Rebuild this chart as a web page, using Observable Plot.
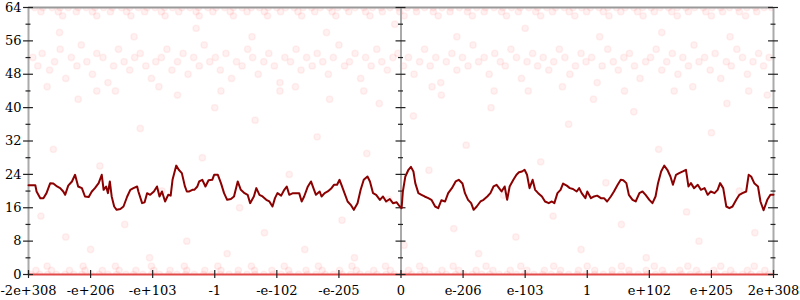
<!DOCTYPE html>
<html><head><meta charset="utf-8">
<script src="https://cdn.jsdelivr.net/npm/d3@7"></script>
<script src="https://cdn.jsdelivr.net/npm/@observablehq/plot@0.6"></script>
<style>body{margin:0;background:#fff} svg text{font-family:"DejaVu Serif",serif !important;}</style>
</head><body><div id="chart"></div>
<script>
// x tick positions (ordinal of the float bit pattern, one unit per tick) and their labels
const xTickValues = [-6,-5,-4,-3,-2,-1,0,1,2,3,4,5,6];
const xTickLabels = ["-2e+308","-e+206","-e+103","-1","-e-102","-e-205","0","e-206","e-103","1","e+102","e+205","2e+308"];
const yTickValues = [0,4,8,12,16,20,24,28,32,36,40,44,48,52,56,60,64];
const yLabelValues = [0,8,16,24,32,40,48,56,64];
const axisPositions = [-6, 0, 6];

// dense rows of samples
const xs0 = [-5.96,-5.82,-5.69,-5.55,-5.41,-5.27,-5.14,-4.99,-4.86,-4.72,-4.58,-4.43,-4.31,-4.16,-4.02,-3.89,-3.74,-3.61,-3.47,-3.33,-3.18,-3.05,-2.91,-2.77,-2.63,-2.48,-2.35,-2.21,-2.06,-1.93,-1.79,-1.65,-1.51,-1.37,-1.22,-1.09,-0.95,-0.81,-0.66,-0.53,-0.39,-0.24,-0.11,0.03,0.17,0.31,0.46,0.59,0.73,0.88,1.01,1.15,1.3,1.43,1.58,1.71,1.86,1.99,2.14,2.28,2.42,2.55,2.7,2.84,2.98,3.12,3.26,3.4,3.54,3.68,3.82,3.96,4.1,4.24,4.38,4.52,4.66,4.8,4.94,5.08,5.22,5.36,5.5,5.64,5.78,5.92];
const xs1 = [-5.88,-5.63,-5.34,-5.09,-4.81,-4.54,-4.27,-3.98,-3.72,-3.45,-3.16,-2.9,-2.62,-2.36,-2.08,-1.81,-1.53,-1.27,-0.99,-0.72,-0.44,-0.17,0.12,0.38,0.66,0.93,1.21,1.48,1.76,2.03,2.31,2.57,2.86,3.12,3.4,3.67,3.95,4.21,4.49,4.76,5.04,5.31,5.58,5.86];
const xs2 = [-5.7,-5.12,-4.6,-4.02,-3.49,-2.95,-2.41,-1.88,-1.33,-0.79,-0.25,0.3,0.84,1.37,1.93,2.46,3.0,3.55,4.08,4.62,5.15,5.69];
const xs62 = [-5.45,-4.9,-4.35,-3.8,-3.25,-2.7,-2.15,-1.6,-1.05,-0.5,0.05,0.6,1.15,1.7,2.25,2.8,3.35,3.9,4.45,5.0,5.55];
const xs63 = [-5.8,-5.52,-5.23,-4.97,-4.68,-4.42,-4.13,-3.86,-3.58,-3.3,-3.03,-2.75,-2.48,-2.2,-1.94,-1.66,-1.39,-1.11,-0.84,-0.57,-0.3,-0.02,0.25,0.52,0.79,1.07,1.34,1.62,1.89,2.17,2.44,2.71,2.99,3.26,3.54,3.81,4.08,4.36,4.63,4.91,5.18,5.45,5.73];
const xs64 = [-5.9,-5.77,-5.62,-5.49,-5.36,-5.2,-5.07,-4.93,-4.79,-4.65,-4.5,-4.37,-4.23,-4.09,-3.96,-3.81,-3.68,-3.53,-3.4,-3.26,-3.11,-2.98,-2.84,-2.7,-2.56,-2.41,-2.28,-2.14,-2.0,-1.86,-1.72,-1.58,-1.44,-1.3,-1.15,-1.02,-0.88,-0.74,-0.6,-0.46,-0.32,-0.18,-0.04,0.1,0.24,0.38,0.52,0.66,0.8,0.94,1.08,1.22,1.36,1.5,1.64,1.78,1.92,2.06,2.2,2.35,2.49,2.63,2.77,2.91,3.05,3.19,3.33,3.47,3.61,3.75,3.89,4.03,4.17,4.31,4.45,4.59,4.73,4.87,5.01,5.15,5.29,5.43,5.57,5.71,5.85,5.97];

// band around 52
const midBand = [[-5.93,52],[-5.85,50],[-5.78,53],[-5.66,49],[-5.58,51],[-5.49,54],[-5.4,47],[-5.31,52],[-5.22,50],[-5.15,55],[-5.06,51],[-4.97,48],[-4.9,53],[-4.8,52],[-4.72,46],[-4.63,50],[-4.55,54],[-4.46,51],[-4.37,49],[-4.29,52],[-4.2,53],[-4.11,50],[-4.02,47],[-3.95,51],[-3.86,52],[-3.77,54],[-3.69,49],[-3.6,51],[-3.51,53],[-3.43,48],[-3.34,52],[-3.25,50],[-3.17,55],[-3.08,51],[-2.99,52],[-2.91,49],[-2.82,53],[-2.73,47],[-2.65,51],[-2.56,50],[-2.47,54],[-2.39,52],[-2.3,48],[-2.21,51],[-2.13,53],[-2.04,50],[-1.95,46],[-1.87,52],[-1.78,51],[-1.69,54],[-1.61,49],[-1.52,52],[-1.43,50],[-1.35,53],[-1.26,51],[-1.17,48],[-1.09,52],[-1.0,55],[-0.91,50],[-0.83,51],[-0.74,53],[-0.65,47],[-0.57,52],[-0.48,50],[-0.39,54],[-0.31,51],[-0.22,49],[-0.13,52],[-0.05,53],[0.04,50],[0.12,52],[0.21,48],[0.3,51],[0.38,54],[0.47,50],[0.56,52],[0.64,46],[0.73,51],[0.82,53],[0.9,49],[0.99,52],[1.08,50],[1.16,55],[1.25,51],[1.34,52],[1.42,48],[1.51,53],[1.6,51],[1.68,50],[1.77,54],[1.86,52],[1.94,47],[2.03,51],[2.12,53],[2.2,50],[2.29,52],[2.38,49],[2.46,51],[2.55,54],[2.64,52],[2.72,48],[2.81,50],[2.9,53],[2.98,51],[3.07,52],[3.16,46],[3.24,50],[3.33,54],[3.42,51],[3.5,49],[3.59,52],[3.68,53],[3.76,50],[3.85,47],[3.94,51],[4.02,52],[4.11,54],[4.2,49],[4.28,51],[4.37,53],[4.46,48],[4.54,52],[4.63,50],[4.72,55],[4.8,51],[4.89,52],[4.98,49],[5.06,53],[5.15,47],[5.24,51],[5.32,50],[5.41,54],[5.5,52],[5.58,48],[5.67,51],[5.76,53],[5.84,50],[5.93,52]];

// sparse samples elsewhere
const scatter = [[-5.8,14],[-5.6,30],[-5.4,9],[-5.2,42],[-5.0,6],[-4.85,26],[-4.6,44],[-4.45,12],[-4.2,35],[-4.05,4],[-3.85,20],[-3.6,43],[-3.45,8],[-3.2,28],[-3.0,40],[-2.8,5],[-2.6,16],[-2.35,37],[-2.2,10],[-1.95,44],[-1.8,24],[-1.55,6],[-1.35,33],[-1.15,42],[-0.95,13],[-0.75,4],[-0.55,29],[-0.35,41],[-0.2,18],[0.05,7],[0.2,38],[0.45,25],[0.65,43],[0.85,11],[1.05,31],[1.25,5],[1.45,40],[1.65,19],[1.85,9],[2.05,44],[2.25,27],[2.45,14],[2.7,36],[2.9,6],[3.1,42],[3.3,22],[3.55,12],[3.75,39],[3.95,4],[4.15,30],[4.4,44],[4.6,15],[4.8,8],[5.0,34],[5.25,41],[5.45,20],[5.7,10],[5.9,43],[-5.5,58],[-4.3,57],[-3.3,59],[-2.4,57],[-1.2,58],[-0.1,60],[0.9,57],[2.0,59],[3.2,57],[4.2,58],[5.3,57],[-5.7,45],[-4.9,44],[-3.9,45],[-2.9,44],[-1.7,45],[-0.6,44],[0.5,45],[1.5,44],[2.6,45],[3.6,44],[4.7,45],[5.6,44]];

// moving average series
const lineSeries = [[-6.0,21.4],[-5.89,21.4],[-5.87,19.9],[-5.81,18.3],[-5.76,18.3],[-5.71,19.5],[-5.65,21.9],[-5.6,21.8],[-5.54,21.1],[-5.49,20.7],[-5.44,19.9],[-5.41,19.1],[-5.36,21.3],[-5.3,22.3],[-5.25,23.9],[-5.2,21.1],[-5.14,20.7],[-5.09,18.7],[-5.03,18.6],[-4.98,19.9],[-4.93,20.7],[-4.87,21.9],[-4.82,23.9],[-4.79,20.3],[-4.75,21.1],[-4.72,19.5],[-4.69,22.3],[-4.66,18.7],[-4.62,16.3],[-4.58,15.5],[-4.52,15.7],[-4.47,16.3],[-4.41,18.7],[-4.36,20.3],[-4.31,20.7],[-4.25,21.1],[-4.23,19.9],[-4.17,17.1],[-4.13,17.3],[-4.09,19.5],[-4.04,19.1],[-3.98,19.9],[-3.93,21.1],[-3.89,18.7],[-3.85,19.9],[-3.8,17.5],[-3.75,19.1],[-3.71,18.9],[-3.68,22.7],[-3.62,26.1],[-3.58,25.1],[-3.53,24.3],[-3.48,21.1],[-3.45,19.9],[-3.41,19.9],[-3.36,20.3],[-3.33,20.3],[-3.28,21.1],[-3.25,22.3],[-3.2,22.7],[-3.15,21.1],[-3.1,22.6],[-3.04,22.7],
[-3.01,23.9],[-2.95,23.9],[-2.9,21.9],[-2.85,19.5],[-2.8,17.9],[-2.74,18.1],[-2.69,18.7],[-2.63,22.3],[-2.58,20.3],[-2.52,19.5],[-2.47,19.1],[-2.43,17.1],[-2.37,18.7],[-2.33,20.7],[-2.28,19.1],[-2.23,18.7],[-2.17,17.9],[-2.12,17.5],[-2.07,16.3],[-2.03,18.3],[-1.99,19.5],[-1.93,18.9],[-1.88,20.3],[-1.84,21.1],[-1.8,19.1],[-1.74,19.5],[-1.69,19.5],[-1.64,19.5],[-1.6,17.5],[-1.56,18.7],[-1.5,21.1],[-1.45,22.3],[-1.4,20.3],[-1.37,19.1],[-1.31,19.9],[-1.28,18.7],[-1.23,19.5],[-1.18,19.9],[-1.12,20.7],[-1.08,21.5],[-1.03,21.5],[-0.99,22.7],[-0.95,21.1],[-0.91,19.5],[-0.86,17.5],[-0.81,16.7],[-0.76,15.5],[-0.7,17.1],[-0.65,20.3],[-0.6,22.7],[-0.54,23.5],[-0.5,22.3],[-0.45,19.5],[-0.4,19.1],[-0.34,17.9],[-0.29,18.7],[-0.24,17.5],[-0.18,18.1],[-0.13,17.1],[-0.07,17.3],[-0.02,16.3],
[0.01,15.9],[0.03,19.9],[0.07,23.5],[0.12,25.1],[0.16,25.8],[0.2,24.7],[0.23,21.9],[0.28,19.5],[0.33,19.1],[0.38,18.7],[0.44,18.3],[0.49,17.9],[0.55,16.3],[0.6,15.9],[0.65,17.8],[0.71,17.5],[0.76,19.5],[0.82,20.7],[0.88,22.3],[0.93,22.7],[0.99,21.8],[1.03,19.5],[1.08,17.9],[1.13,17.1],[1.17,15.5],[1.22,16.3],[1.28,17.5],[1.33,17.9],[1.39,18.7],[1.44,19.5],[1.49,21.1],[1.54,21.5],[1.58,20.7],[1.62,19.9],[1.67,21.1],[1.71,17.9],[1.75,21.1],[1.81,22.7],[1.86,23.9],[1.9,24.5],[1.95,24.7],[1.99,25.1],[2.03,23.9],[2.07,20.7],[2.12,22.7],[2.16,20.3],[2.21,19.5],[2.27,18.7],[2.32,17.5],[2.38,17.1],[2.43,17.5],[2.47,17.1],[2.52,19.5],[2.57,20.3],[2.61,21.8],[2.67,21.3],[2.72,20.7],[2.77,20.5],[2.83,19.9],[2.87,20.7],[2.91,19.5],[2.97,18.3],
[3.0,19.9],[3.06,18.3],[3.11,18.7],[3.16,18.9],[3.22,18.3],[3.27,18.3],[3.32,17.5],[3.38,18.7],[3.43,19.9],[3.49,21.5],[3.54,22.7],[3.58,22.6],[3.63,21.9],[3.67,19.1],[3.73,17.9],[3.78,17.5],[3.84,19.5],[3.89,19.9],[3.94,19.1],[4.0,17.9],[4.05,17.1],[4.1,18.7],[4.14,21.9],[4.19,24.7],[4.24,26.1],[4.29,25.1],[4.34,23.5],[4.38,21.5],[4.43,23.9],[4.48,24.3],[4.54,24.7],[4.59,25.1],[4.63,21.1],[4.67,21.9],[4.72,20.7],[4.78,21.5],[4.83,20.3],[4.89,20.7],[4.94,19.1],[4.99,19.9],[5.05,19.5],[5.1,20.3],[5.14,21.9],[5.19,20.7],[5.24,16.3],[5.29,15.9],[5.34,16.3],[5.4,17.9],[5.45,19.1],[5.5,19.5],[5.56,19.9],[5.6,23.9],[5.64,23.5],[5.69,21.9],[5.75,21.1],[5.79,17.5],[5.84,15.4],[5.9,17.9],[5.95,19.1],[6.0,19.1]];

// build tables
const points = [];
[[xs0,0],[xs1,1],[xs2,2],[xs62,62],[xs63,63],[xs64,64]].forEach(([xs, y]) => xs.forEach(x => points.push({x, y})));
midBand.forEach(([x, y]) => points.push({x, y}));
scatter.forEach(([x, y]) => points.push({x, y}));
const line = lineSeries.map(([x, y]) => ({x, y}));

const yTickRows = [];
axisPositions.forEach(p => yTickValues.forEach(t => yTickRows.push({p, t, major: t % 8 === 0})));
const majorLen = 0.08, minorLen = 0.04; // in x units (~5px / ~2.5px)
const serif = "DejaVu Serif";

const chart = Plot.plot({
  width: 800, height: 300,
  marginLeft: 28, marginRight: 27, marginTop: 7, marginBottom: 26,
  x: {domain: [-6, 6]},
  y: {domain: [0, 64]},
  style: {fontFamily: serif, fontSize: "13px", background: "white", color: "black"},
  marks: [
    Plot.dot(points, {x: "x", y: "y", r: 3.2, fill: "red", fillOpacity: 0.055, stroke: "red", strokeOpacity: 0.05, clip: true}),
    Plot.ruleX(axisPositions, {stroke: "#aaa", strokeWidth: 2}),
    Plot.ruleY([64], {stroke: "#999", strokeWidth: 2}),
    Plot.ruleY([0], {stroke: "#e24a4a", strokeWidth: 2}),
    Plot.ruleY(yTickRows, {y: "t", x1: d => d.p - (d.major ? majorLen : minorLen), x2: d => d.p + (d.major ? majorLen : minorLen), stroke: "#222", strokeWidth: 1.2}),
    Plot.ruleX(xTickValues, {x: d => d, y1: -0.96, y2: 0.96, stroke: "#222", strokeWidth: 1.2}),
    Plot.line(line, {x: "x", y: "y", stroke: "darkred", strokeWidth: 2}),
    Plot.axisX({ticks: xTickValues, tickFormat: d => xTickLabels[xTickValues.indexOf(d)], tickSize: 0, tickPadding: 11, label: null, fontSize: 13, fontFamily: serif}),
    Plot.axisY({ticks: yLabelValues, tickSize: 0, tickPadding: 7, label: null, fontSize: 13, fontFamily: serif})
  ]
});
document.getElementById("chart").appendChild(chart);
</script>
</body></html>
